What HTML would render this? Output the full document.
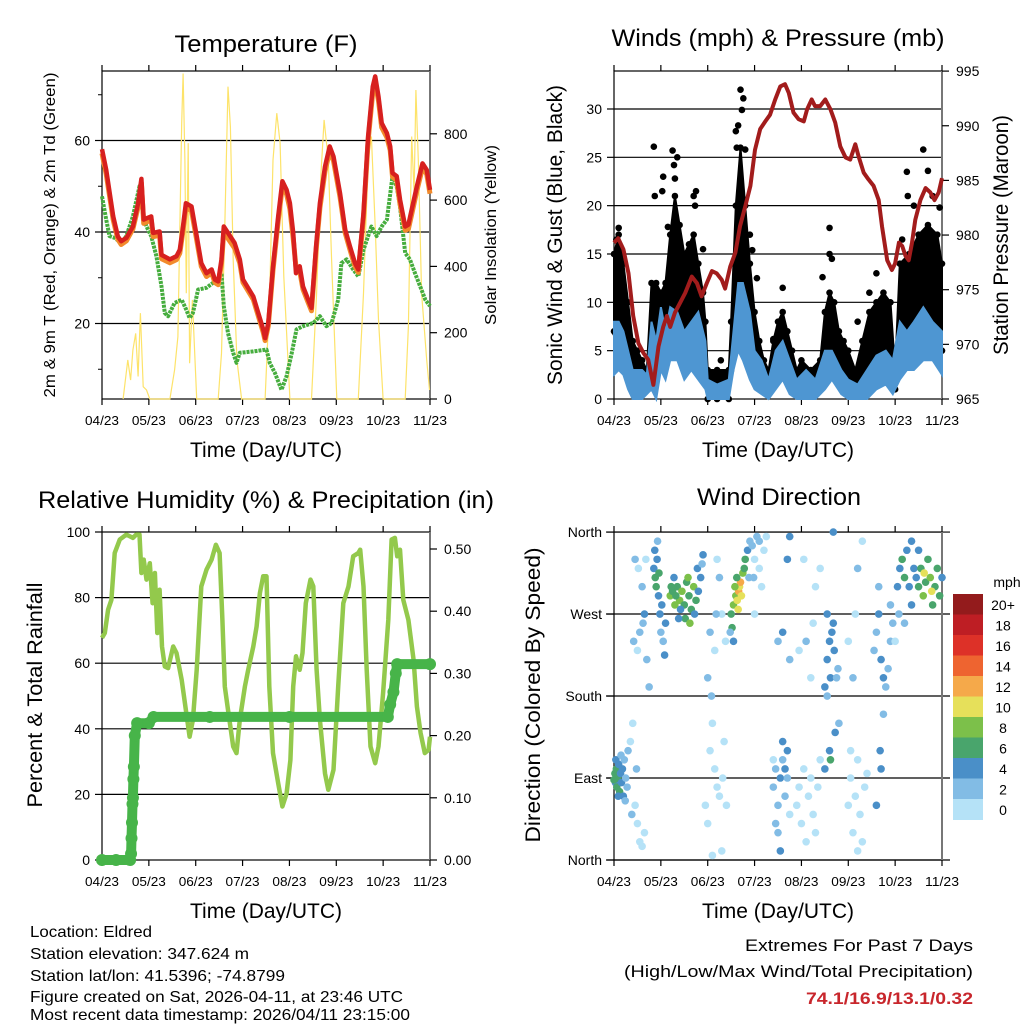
<!DOCTYPE html>
<html><head><meta charset="utf-8"><style>
html,body{margin:0;padding:0;background:#fff;}
svg{display:block;font-family:"Liberation Sans",sans-serif;}
</style></head><body>
<svg id="fig" width="1024" height="1024" viewBox="0 0 1024 1024" xmlns="http://www.w3.org/2000/svg">
<rect width="1024" height="1024" fill="#fff"/>
<g id="p1"></g>
<g id="p2"></g>
<g id="p3"></g>
<g id="p4"></g>
<g font-size="24" fill="#000" text-anchor="middle">
<text x="266" y="52" textLength="183" lengthAdjust="spacingAndGlyphs">Temperature (F)</text>
<text x="778" y="46" textLength="333" lengthAdjust="spacingAndGlyphs">Winds (mph) &amp; Pressure (mb)</text>
<text x="266" y="508" textLength="456" lengthAdjust="spacingAndGlyphs">Relative Humidity (%) &amp; Precipitation (in)</text>
<text x="779" y="505" textLength="164" lengthAdjust="spacingAndGlyphs">Wind Direction</text>
</g>
<g font-size="16" fill="#000">
<text x="30" y="937" textLength="122" lengthAdjust="spacingAndGlyphs">Location: Eldred</text>
<text x="30" y="959" textLength="219" lengthAdjust="spacingAndGlyphs">Station elevation: 347.624 m</text>
<text x="30" y="981" textLength="255" lengthAdjust="spacingAndGlyphs">Station lat/lon: 41.5396; -74.8799</text>
<text x="30" y="1002" textLength="373" lengthAdjust="spacingAndGlyphs">Figure created on Sat, 2026-04-11, at 23:46 UTC</text>
<text x="30" y="1020" textLength="380" lengthAdjust="spacingAndGlyphs">Most recent data timestamp: 2026/04/11 23:15:00</text>
</g>
<g font-size="17" fill="#000" text-anchor="end">
<text x="973" y="951" textLength="228" lengthAdjust="spacingAndGlyphs">Extremes For Past 7 Days</text>
<text x="973" y="977" textLength="349" lengthAdjust="spacingAndGlyphs">(High/Low/Max Wind/Total Precipitation)</text>
<text x="973" y="1004" font-weight="bold" fill="#c8262c" textLength="167" lengthAdjust="spacingAndGlyphs">74.1/16.9/13.1/0.32</text>
</g>
</svg>
<script>
// ---- x axis ----
const monthLabels = ["04/23","05/23","06/23","07/23","08/23","09/23","10/23","11/23"];
// ---- Temperature (F), time in days 0..7 ----
const tempT = [0,.09,.24,.34,.41,.52,.66,.77,.84,.89,.95,1.05,1.09,1.23,1.27,1.45,1.59,1.66,1.72,1.79,1.91,2.02,2.12,2.23,2.34,2.41,2.48,2.55,2.6,2.69,2.83,2.94,3.01,3.23,3.44,3.48,3.55,3.65,3.76,3.85,3.94,4.01,4.08,4.14,4.22,4.29,4.4,4.47,4.57,4.65,4.76,4.86,4.94,5.08,5.19,5.29,5.4,5.47,5.58,5.68,5.78,5.83,5.9,5.97,6.08,6.15,6.2,6.29,6.36,6.47,6.54,6.61,6.72,6.84,6.93,7.0];
const temp2m = [58.1,53.6,43.4,39,38,38.7,41.2,46.3,51.6,42.7,43,43.4,39.8,40.1,35,34,34.7,36.1,40.5,46.3,45.6,39.1,33.2,31,31.8,29.6,29.2,34,41.2,39.8,37.6,34,29.6,25.9,18.7,16.8,20.1,32.5,43.4,51.1,49.2,46.3,39.8,31,32.5,28.1,25.2,23.4,36.9,46.3,54.3,58.7,56.5,48.5,40.5,36.9,33.2,31.8,44.1,60.9,71.8,74,69.6,63.8,61.6,58.7,52.9,52.2,47.1,41.2,41.6,44.9,50,55,53.6,49.2];
const temp9m = [57.5,53,43,38.7,37.6,38.4,41,45.8,51,42.2,42.5,43,39.3,39.6,34.5,33.6,34.3,35.7,40,45.6,45,38.6,32.8,30.6,31.4,29.3,28.8,33.4,40.5,38.9,36.8,33.5,29.3,25.6,18.4,16.6,19.8,32,42.8,50.4,48.6,45.4,38.9,32.6,31.8,27.8,24.9,23.1,36.4,45.6,53.6,58,55.9,48,40.1,36.5,32.8,31.5,43.5,60.2,71,73,69,63.2,61,58.2,52.4,51.6,46.5,40.7,41,44.2,49.4,54.4,53,48.7];
const dewT = [0,.09,.16,.27,.41,.52,.66,.8,.88,.95,1.05,1.16,1.27,1.34,1.41,1.55,1.7,1.8,1.87,1.94,2.05,2.23,2.37,2.48,2.55,2.6,2.69,2.8,2.87,2.94,3.23,3.51,3.58,3.69,3.83,3.94,4.05,4.15,4.29,4.51,4.65,4.79,4.9,5.04,5.11,5.22,5.36,5.47,5.58,5.75,5.86,5.97,6.08,6.2,6.29,6.36,6.47,6.57,6.68,6.79,6.9,7];
const dewPt = [47.8,42.7,39.1,38.7,37.6,39.1,43.4,50,43.4,41.2,39.1,34.7,28.1,22.3,21.6,24.5,25.2,23,21.2,22.3,27.4,27.8,28.9,29.6,31,23.8,17.9,13.6,11.4,13.6,13.9,14.3,11.4,9.2,5.5,8.5,13.6,18.7,19.4,20.1,21.6,19.4,20.1,25.2,33.2,34,31.8,30.3,36.1,41.2,39.1,41.2,42.7,52.2,50,45.6,35.4,34,31,28.1,25.2,23.8];
const solarT = [0.45,.55,.61,.66,.72,.77,.82,.88,.95,1.02,1.45,1.55,1.62,1.7,1.73,1.77,1.8,1.84,1.87,1.93,2.02,2.48,2.55,2.62,2.69,2.74,2.8,2.88,2.98,3.48,3.58,3.65,3.73,3.8,3.88,4.01,4.47,4.58,4.67,4.74,4.83,4.9,5.01,5.47,5.58,5.68,5.75,5.83,5.9,6.0,6.47,6.54,6.61,6.66,6.7,6.75,6.82,6.93,6.99];
const solarW = [0,118,57,148,198,68,259,37,27,0,0,88,188,832,982,721,319,772,108,299,0,0,138,521,942,821,420,118,0,0,319,721,862,772,370,0,0,319,671,842,721,420,0,0,319,721,792,521,239,0,0,219,792,621,932,721,319,118,27];
// ---- Winds & pressure ----
const presT = [0,.09,.2,.31,.41,.52,.63,.73,.84,.95,1.05,1.13,1.2,1.3,1.41,1.52,1.66,1.77,1.87,1.98,2.09,2.19,2.3,2.37,2.48,2.59,2.69,2.8,2.91,3.01,3.12,3.23,3.33,3.44,3.55,3.65,3.73,3.83,3.94,4.05,4.12,4.22,4.29,4.4,4.51,4.62,4.72,4.83,4.94,5.04,5.15,5.22,5.33,5.43,5.54,5.65,5.72,5.83,5.93,6.0,6.08,6.15,6.22,6.29,6.36,6.43,6.54,6.65,6.75,6.84,6.93,7.0];
const presMb = [979.3,979.7,978.7,976.5,972.6,970.1,969.2,968.6,966.3,969.8,971.6,972.6,971.6,972.9,973.8,974.7,976.2,975.6,974.4,975.6,976.7,976.5,975.9,975.1,977.1,978.4,980.8,982.6,984.5,987.8,989.7,990.4,991,992.4,993.6,993.8,993,991.2,990.6,990.4,991.5,992.4,991.8,991.8,992.4,991.5,990.3,988.1,987.1,986.9,988.3,987.2,985.7,985.1,984.5,983.2,980.8,977.7,976.8,977.4,979.3,979,978.1,977.7,979.3,981.4,983.2,984.3,983.9,983.2,983.9,985.2];
const sonicT = [0,.1,.2,.3,.4,.5,.6,.7,.8,.9,1.0,1.1,1.2,1.35,1.5,1.65,1.8,1.95,2.0,2.2,2.45,2.55,2.65,2.75,2.9,3.0,3.15,3.3,3.45,3.6,3.75,3.9,4.1,4.3,4.5,4.65,4.85,5.0,5.2,5.4,5.6,5.8,5.95,6.1,6.25,6.4,6.6,6.8,7.0];
const sonicHi = [8,8,7,5,3,3,3,2.5,8,6,9.5,7,9.5,9,7,8,9,6,2,1.5,2,7,12,12,9,5,4,2,5,6,4,2,3,2,5,5,3,2,1.5,3,4.5,5,4,8,7,8,9.5,8,7];
const sonicLo = [2.5,3,2.5,1,0,0,0,.5,1,0,3,2,4,4,2,3,2,1,0,0,0,3,5,4,2,1,.5,0,1,2,.5,0,0,0,1,2,.5,0,0,0,1,1.5,.5,2,3,3,4,4,2.5];
const gustT = [0,.1,.2,.3,.4,.5,.6,.7,.8,.9,1.0,1.1,1.2,1.3,1.4,1.5,1.6,1.7,1.8,1.9,1.95,2.0,2.2,2.45,2.5,2.6,2.7,2.8,2.9,3.0,3.1,3.2,3.3,3.4,3.5,3.6,3.7,3.8,3.9,4.0,4.2,4.4,4.5,4.6,4.7,4.8,4.9,5.0,5.15,5.3,5.45,5.6,5.75,5.9,6.0,6.1,6.3,6.5,6.7,6.9,7.0];
const gustHi = [15,17,14,10,6,5,4,3,12,12,11,12,17,21,18,15,16,17,14,11,8,3,3,3,8,20,26,20,14,9,6,4,3,6,8,9,7,5,3,4,3,4,9,11,10,7,6,5,3,6,9,10,11,10,3,14,15,17,18,17,14];
const gustLo = [7,8,6,3,2,1,1,1,3,4,5,6,8,9,8,7,8,8,7,4,2,0,0,0,3,7,10,8,5,3,2,1,1,2,3,3,2,1,.5,1,.5,1,3,4,4,2,2,1,.5,2,3,3,4,3,1,5,6,7,7,6,5];
const gustPtT = [.85,.87,1.05,1.03,1.15,1.25,1.28,1.35,1.3,1.7,1.75,1.73,2.28,2.6,2.65,2.7,2.76,2.73,2.62,2.8,2.9,3.6,3.4,4.6,4.6,4.65,4.45,5.6,6.25,6.27,6.6,6.7,6.95,.1,.05,1.9,2.95,3.05,5.45,5.2,6.15,6.4,6.8,.03];
const gustPtV = [26.1,21,23,21.5,17.8,25.7,24.2,25,22.8,21,21.5,20,4,27.7,28.3,32,31.1,29.9,26,25.8,17,11.5,6.2,17.7,15,14.5,12.6,13,23.5,21,25.8,23.6,19.8,17.7,16.5,15.5,15.4,12.5,11,8,16.5,20,21,6.8];
// ---- RH & precipitation ----
const rhT = [0,.06,.13,.2,.27,.38,.52,.66,.73,.8,.84,.89,.95,1.02,1.08,1.13,1.18,1.23,1.28,1.34,1.41,1.52,1.59,1.7,1.8,1.87,1.94,2.02,2.12,2.23,2.34,2.43,2.51,2.57,2.62,2.69,2.8,2.87,2.94,3.05,3.12,3.23,3.3,3.37,3.44,3.51,3.57,3.65,3.76,3.85,3.94,4.02,4.08,4.14,4.22,4.28,4.35,4.45,4.51,4.58,4.65,4.76,4.83,4.94,5.04,5.15,5.26,5.36,5.47,5.51,5.58,5.65,5.73,5.83,5.9,6.0,6.11,6.18,6.25,6.3,6.36,6.43,6.54,6.65,6.72,6.8,6.89,6.97,7.0];
const rhPct = [67.7,69.2,76.3,79.3,93.6,97.7,99.2,98.2,99.2,99.2,87.5,91.6,85.5,90.5,78.3,87.5,69.2,82.4,65.1,59,58.5,65.1,63.1,54.9,44.8,37.6,42.7,58,83.4,88.5,91.6,96.1,93.6,73.2,52.9,45.8,34.6,32.6,42.7,52.9,58,65.1,71.2,81.4,86.5,86.5,52.9,32.6,23.4,16.3,20.3,30.5,52.9,62.1,58,63.1,78.3,85.5,83.4,58,42.7,26.4,21.4,27.5,52.9,78.3,83.4,92.6,93.6,94.6,83.4,58,34.6,29.5,34.6,50.9,73.2,97.7,98.2,92.6,94.6,79.3,73.2,61,46.8,38.7,32.6,33.6,37.6];
const rainT = [0,.3,.6,.62,.63,.64,.65,.66,.67,.68,.7,.75,1.0,1.1,2.3,4.0,6.1,6.15,6.22,6.27,6.3,7.0];
const rainIn = [0,0,0,.01,.035,.06,.09,.1,.13,.15,.2,.22,.22,.23,.23,.23,.23,.25,.27,.3,.315,.315];
// ---- Wind direction (deg) & speed (mph) ----
const dirT = [0.02,0.03,0.05,0.06,0.08,0.1,0.12,0.14,0.16,0.18,0.2,0.22,0.25,0.28,0.04,0.09,0.15,0.24,0.3,0.0,
0.35,0.4,0.45,0.5,0.55,0.38,0.48,0.6,0.65,0.42,0.5,0.55,0.52,0.45,0.6,0.65,0.7,0.75,0.62,0.68,
0.85,0.88,0.9,0.92,0.95,0.98,1.0,1.02,0.87,1.05,1.08,0.93,1.1,0.96,
1.2,1.25,1.3,1.35,1.4,1.45,1.5,1.55,1.6,1.65,1.7,1.75,1.8,1.85,1.22,1.32,1.42,1.52,1.62,1.72,1.78,1.88,1.9,1.38,1.28,1.58,
1.95,2.0,2.05,2.1,2.15,2.2,2.25,2.3,2.35,2.1,2.05,2.15,2.2,2.25,2.3,2.38,2.4,2.32,2.0,2.08,2.18,
2.5,2.55,2.6,2.63,2.66,2.68,2.7,2.72,2.65,2.58,2.75,2.78,2.8,2.85,2.88,2.52,2.55,2.48,2.62,2.9,
2.95,3.0,3.05,3.1,3.15,3.2,3.25,3.1,3.0,2.98,
3.4,3.45,3.5,3.55,3.6,3.65,3.7,3.5,3.55,3.45,3.6,3.7,3.75,3.65,3.4,3.5,3.6,3.75,3.7,3.75,
3.9,3.95,4.0,4.05,4.1,4.15,4.2,4.25,4.3,4.35,4.4,4.25,4.1,4.2,3.95,4.05,4.3,4.4,
4.5,4.55,4.6,4.62,4.65,4.7,4.55,4.68,4.6,4.5,4.72,4.62,4.55,4.75,4.78,4.8,4.68,
5.0,5.05,5.1,5.15,5.2,5.25,5.3,5.35,5.4,5.05,5.2,5.1,5.2,5.3,5.0,5.15,
5.55,5.6,5.65,5.7,5.75,5.8,5.85,5.9,5.95,5.7,5.68,5.6,5.75,5.9,5.65,6.0,
6.05,6.1,6.15,6.2,6.25,6.3,6.35,6.4,6.45,6.5,6.55,6.6,6.65,6.7,6.75,6.8,6.85,6.9,6.95,7.0,6.62,6.78,6.5,6.35,6.08,6.2];
const dirDeg = [95,85,100,80,90,105,75,95,85,100,70,110,90,80,110,70,115,65,120,88,
130,150,60,40,20,50,100,15,30,240,230,250,320,330,300,270,220,190,260,330,
320,310,300,330,290,270,250,280,340,240,225,350,260,315,
290,295,280,300,285,295,280,305,290,275,300,285,295,310,300,290,275,265,260,270,320,325,335,265,310,310,
60,40,120,150,100,80,70,10,130,5,250,230,330,310,270,240,60,90,200,180,270,
270,280,290,285,295,300,305,290,275,300,315,320,330,340,310,255,240,250,310,350,
345,330,355,320,300,340,355,350,270,310,
80,100,60,90,110,70,120,30,10,40,130,90,50,100,110,240,250,220,330,355,
60,80,40,100,20,70,90,50,30,80,110,260,240,200,230,330,300,320,
190,220,240,200,250,230,180,260,120,100,140,110,270,200,210,150,360,
60,90,30,70,110,50,20,80,95,120,10,200,320,350,240,270,
230,250,270,220,200,190,210,240,260,100,120,60,160,280,300,240,
300,320,330,310,340,300,280,320,310,300,320,290,305,330,310,280,300,320,290,310,315,295,340,350,270,260];
const dirSpd = [6,5,7,6,7,5,6,4,5,4,4,3,3,2,5,4,3,2,2,6,
1,1,1,1,0,2,2,1,0,2,1,3,1,2,3,4,3,2,3,1,
5,6,7,4,5,4,3,4,4,3,4,3,5,7,
8,7,8,7,8,8,7,7,6,7,8,6,5,4,6,6,5,6,8,4,4,3,4,4,5,8,
1,1,1,1,1,0,1,0,1,1,2,1,1,2,1,1,1,1,3,3,2,
7,8,9,10,12,11,13,10,10,8,8,7,6,4,3,6,4,3,7,3,
2,1,2,1,1,1,0,2,1,2,
2,3,3,4,3,2,4,2,4,3,4,2,1,4,1,2,4,2,4,4,
1,1,1,1,1,1,1,1,0,1,1,1,2,1,1,1,1,1,
4,4,5,4,4,4,3,5,4,4,4,6,4,3,2,2,4,
1,1,1,1,1,1,1,1,1,1,0,2,2,1,1,1,
3,3,4,4,4,3,3,2,2,4,4,4,3,2,2,1,
4,5,6,6,4,5,4,5,5,6,7,8,7,6,9,7,6,7,6,5,10,10,4,4,3,2];
const speedBins = ["0","2","4","6","8","10","12","14","16","18","20+"];
const binColors = ["#b5e2f7","#82bce5","#4a8fc8","#49a56c","#7cc04a","#e6e05a","#f5a94a","#ee6430","#dd3128","#be1e24","#931b1c"];

const NS="http://www.w3.org/2000/svg";
function mk(parent, tag, attrs){const e=document.createElementNS(NS,tag);for(const k in attrs)e.setAttribute(k,attrs[k]);parent.appendChild(e);return e;}
const PW=328, PH=328;
function xs(x0){return t=>x0+t/7*PW;}
function pts(xf,yf,T,V){return T.map((t,i)=>xf(t).toFixed(1)+","+yf(V[i]).toFixed(1)).join(" ");}

function frame(g,x0,y0,leftTicks,leftLabels,yL,rightTicks,rightLabels,yR,gridVals,ext){
  gridVals.forEach(v=>{const l=mk(g,"line",{x1:x0-ext,x2:x0+PW+ext,y1:yL(v),y2:yL(v),stroke:"#000","stroke-width":1.2});
    
    });
  const b=mk(g,"rect",{x:x0,y:y0,width:PW,height:PH,fill:"none",stroke:"#000","stroke-width":1.2});
  
  
  mk(g,"line",{x1:x0+PW,x2:x0+PW,y1:y0,y2:y0+PH,stroke:"#777","stroke-width":2});
  monthLabels.forEach((m,i)=>{const x=x0+i*PW/7;
    mk(g,"line",{x1:x,x2:x,y1:y0,y2:y0-6,stroke:"#000","stroke-width":1.2});
    mk(g,"line",{x1:x,x2:x,y1:y0+PH,y2:y0+PH+6,stroke:"#000","stroke-width":1.2});
    const t=mk(g,"text",{x:x,y:y0+PH+26,"font-size":13,"text-anchor":"middle",textLength:34,lengthAdjust:"spacingAndGlyphs"});
    t.textContent=m;
    
    });
  const xt=mk(g,"text",{x:x0+PW/2,y:y0+PH+58,"font-size":21,"text-anchor":"middle",textLength:152,lengthAdjust:"spacingAndGlyphs"});
  xt.textContent="Time (Day/UTC)";
  
  
  leftTicks.forEach((v,i)=>{const y=yL(v);
    mk(g,"line",{x1:x0-7,x2:x0,y1:y,y2:y,stroke:"#000","stroke-width":1.2});
    const t=mk(g,"text",{x:x0-12,y:y+5,"font-size":14,"text-anchor":"end"});t.textContent=leftLabels[i];
    
    });
  if(rightTicks) rightTicks.forEach((v,i)=>{const y=yR(v);
    mk(g,"line",{x1:x0+PW,x2:x0+PW+7,y1:y,y2:y,stroke:"#000","stroke-width":1.2});
    const t=mk(g,"text",{x:x0+PW+14,y:y+5,"font-size":14});t.textContent=rightLabels[i];
    
    });
}
function vtitle(g,x,y,txt,len,name,size){const t=mk(g,"text",{x:0,y:0,"font-size":size||18,"text-anchor":"middle",transform:`translate(${x},${y}) rotate(-90)`,textLength:len,lengthAdjust:"spacingAndGlyphs"});t.textContent=txt;
  
  }

// ===== Panel 1 =====
(function(){
  const g=document.getElementById("p1");const x0=102,y0=71;const X=xs(x0);
  const yT=v=>415-v*4.575, yS=v=>399-v*0.3315;
  frame(g,x0,y0,[20,40,60],["20","40","60"],yT,[0,200,400,600,800],["0","200","400","600","800"],yS,[20,40,60],0);
  [10,30,50,70].forEach(v=>mk(g,"line",{x1:x0-4,x2:x0,y1:yT(v),y2:yT(v),stroke:"#000"}));
  const s=mk(g,"polyline",{points:pts(X,yS,solarT,solarW),fill:"none",stroke:"#fde36a","stroke-width":1.2});
  
  
  const d=mk(g,"polyline",{points:pts(X,yT,dewT,dewPt),fill:"none",stroke:"#46ad3e","stroke-width":4,"stroke-dasharray":"3 1","stroke-linejoin":"round"});
  
  
  const o=mk(g,"polyline",{points:pts(X,v=>yT(v)+1.5,tempT,temp9m),fill:"none",stroke:"#f28a2c","stroke-width":5,"stroke-linejoin":"round"});
  
  
  const r=mk(g,"polyline",{points:pts(X,yT,tempT,temp2m),fill:"none",stroke:"#d7201f","stroke-width":4.5,"stroke-linejoin":"round"});
  
  
  vtitle(g,55,235,"2m & 9m T (Red, Orange) & 2m Td (Green)",325,"left-axis-title",16);
  vtitle(g,496,235,"Solar Insolation (Yellow)",180,"right-axis-title",16);
})();

// ===== Panel 2 =====
(function(){
  const g=document.getElementById("p2");const x0=614,y0=71;const X=xs(x0);
  const yW=v=>399-v*9.667, yP=p=>399-(p-965)*10.93;
  frame(g,x0,y0,[0,5,10,15,20,25,30],["0","5","10","15","20","25","30"],yW,[965,970,975,980,985,990,995],["965","970","975","980","985","990","995"],yP,[5,10,15,20,25,30],0);
  const top=gustT.map((t,i)=>X(t).toFixed(1)+","+yW(gustHi[i]).toFixed(1));
  const bot=gustT.map((t,i)=>X(t).toFixed(1)+","+yW(gustLo[i]).toFixed(1)).reverse();
  const gb=mk(g,"polygon",{points:top.concat(bot).join(" "),fill:"#000",stroke:"#000","stroke-width":2,"stroke-linejoin":"round"});
  
  
  gustT.forEach((t,i)=>{const c=mk(g,"circle",{cx:X(t),cy:yW(gustHi[i]),r:3.3,fill:"#000"});
    
    
    const c2=mk(g,"circle",{cx:X(t),cy:yW(gustLo[i]),r:3.3,fill:"#000"});
    
    });
  gustPtT.forEach((t,i)=>{const c=mk(g,"circle",{cx:X(t),cy:yW(gustPtV[i]),r:3.3,fill:"#000"});
    
    });
  const st=sonicT.map((t,i)=>X(t).toFixed(1)+","+yW(sonicHi[i]).toFixed(1));
  const sb=sonicT.map((t,i)=>X(t).toFixed(1)+","+yW(sonicLo[i]).toFixed(1)).reverse();
  const sw=mk(g,"polygon",{points:st.concat(sb).join(" "),fill:"#4e96d2",stroke:"#4e96d2","stroke-width":2});
  
  
  const p=mk(g,"polyline",{points:pts(X,yP,presT,presMb),fill:"none",stroke:"#a21c1c","stroke-width":4,"stroke-linejoin":"round"});
  
  
  vtitle(g,562,235,"Sonic Wind & Gust (Blue, Black)",300,"left-axis-title",21);
  vtitle(g,1008,235,"Station Pressure (Maroon)",240,"right-axis-title",21);
})();

// ===== Panel 3 =====
(function(){
  const g=document.getElementById("p3");const x0=102,y0=532;const X=xs(x0);
  const yH=v=>860-v*3.28, yR=v=>860-v*622;
  frame(g,x0,y0,[0,20,40,60,80,100],["0","20","40","60","80","100"],yH,[0,.1,.2,.3,.4,.5],["0.00","0.10","0.20","0.30","0.40","0.50"],yR,[20,40,60,80],0);
  const h=mk(g,"polyline",{points:pts(X,yH,rhT,rhPct),fill:"none",stroke:"#93c94c","stroke-width":4.5,"stroke-linejoin":"round"});
  
  
  const r=mk(g,"polyline",{points:pts(X,yR,rainT,rainIn),fill:"none",stroke:"#47b449","stroke-width":10,"stroke-linejoin":"round","stroke-linecap":"round"});
  
  
  rainT.forEach((t,i)=>{const c=mk(g,"circle",{cx:X(t),cy:yR(rainIn[i]),r:6,fill:"#47b449"});
    
    });
  vtitle(g,42,695,"Percent & Total Rainfall",225,"left-axis-title",21);
})();

// ===== Panel 4 =====
(function(){
  const g=document.getElementById("p4");const x0=614,y0=532;const X=xs(x0);
  const yD=d=>860-d*0.911;
  frame(g,x0,y0,[0,90,180,270,360],["North","East","South","West","North"],yD,null,null,null,[0,90,180,270,360],8);
  dirT.forEach((t,i)=>{let b=Math.min(10,Math.floor(dirSpd[i]/2));
    const c=mk(g,"circle",{cx:X(t),cy:yD(dirDeg[i]),r:3.8,fill:binColors[b]});
    
    });
  vtitle(g,540,695,"Direction (Colored By Speed)",295,"left-axis-title",21);
  const cb=mk(g,"g",{});
  
  
  const top=594,bh=20.5;
  binColors.slice().reverse().forEach((c,j)=>{mk(cb,"rect",{x:953,y:top+j*bh,width:30,height:bh+0.5,fill:c});});
  speedBins.slice().reverse().forEach((s,j)=>{const t=mk(cb,"text",{x:1003,y:top+j*bh+16,"font-size":14,"text-anchor":"middle"});t.textContent=s;
    
    });
  const u=mk(cb,"text",{x:1007,y:587,"font-size":14,"text-anchor":"middle"});u.textContent="mph";
  
  
})();
</script>
</body></html>
